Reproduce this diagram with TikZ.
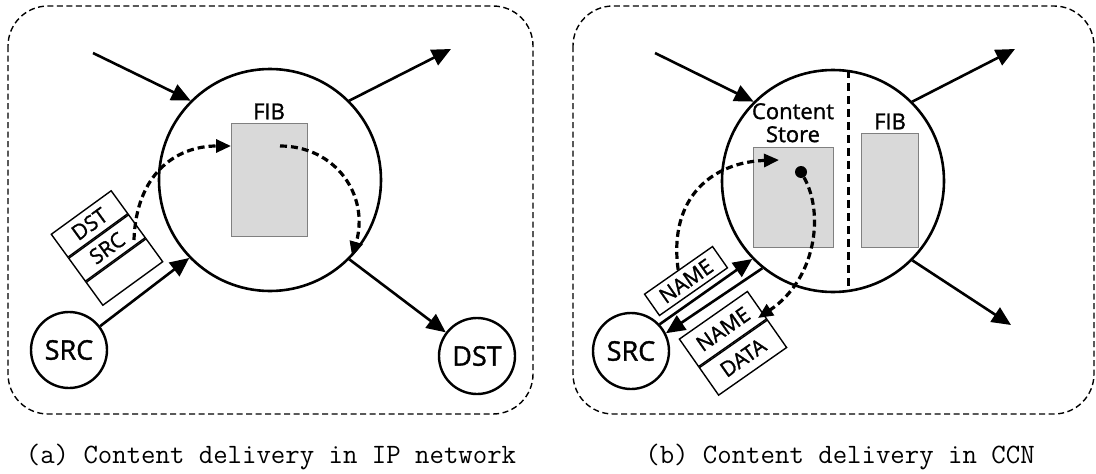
\documentclass[tikz,border=0pt]{standalone}
\usepackage{fontspec}
\newfontfamily\lblfont{Open Sans}[FakeBold=1.3]
\usetikzlibrary{arrows.meta,positioning}
\definecolor{fibgray}{RGB}{217,217,217}
\definecolor{fibedge}{RGB}{128,128,128}

\begin{document}
\begin{tikzpicture}[x=1pt,y=-1pt,
  every node/.style={font=\lblfont},
  box/.style={draw,line width=1.4pt,dash pattern=on 6pt off 3.5pt,rounded corners=40pt},
  router/.style={draw,circle,line width=2.6pt,minimum size=222pt,inner sep=0pt},
  host/.style={draw,circle,line width=2.4pt,minimum size=76pt,inner sep=0pt,font=\lblfont\fontsize{27}{30}\selectfont},
  fibbox/.style={draw=fibedge,fill=fibgray,line width=1pt,inner sep=0pt},
  tlabel/.style={font=\lblfont\fontsize{22}{23}\selectfont,inner sep=0pt,align=center},
  cell/.style={draw,line width=1.4pt,inner sep=0pt,font=\lblfont\fontsize{21}{23}\selectfont},
  link/.style={line width=2.6pt,-{Triangle[length=19pt,width=17pt]}},
  flow/.style={line width=3.2pt,dash pattern=on 7pt off 4pt,-{Triangle[length=15pt,width=13pt]}},
  capt/.style={font=\ttfamily\fontsize{28}{32}\selectfont,inner sep=0pt}]
%\draw[help lines, color=gray!30, dashed] (0,0) grid[step=50pt] (1096,474);
\useasboundingbox (0,0) rectangle (1096,474);
\draw[box] (8,6) rectangle (533,414);
\draw[box] (573,6) rectangle (1094,414);
% (a) IP network
\node[router] (rtA) at (270,180) {};
\node[fibbox,minimum width=76pt,minimum height=113pt] (fibA) at (269,179.5) {};
\node[tlabel,above=3pt of fibA] (fibAl) {FIB};
\node[host] (srcA) at (69,350) {SRC};
\node[host] (dstA) at (477,356) {DST};
\coordinate (inA) at (93,53);
\coordinate (outA) at (451,49);
\draw[link] (inA) -- (rtA.135);
\draw[link] (rtA.45) -- (outA);
\draw[link] (srcA) -- (rtA.224);
\draw[link] (rtA.-45) -- (dstA);
\node[cell,rotate=36,minimum width=74pt,minimum height=28.3pt] (pkA2) at (107,248) {SRC};
\node[cell,rotate=36,minimum width=74pt,minimum height=28.3pt,anchor=south] (pkA1) at (pkA2.north) {DST};
\node[cell,rotate=36,minimum width=74pt,minimum height=28.3pt,anchor=north] (pkA3) at (pkA2.south) {};
\coordinate (fA1) at (134,240);
\coordinate (fA2) at (231,146);
\coordinate (fA3) at (280,146);
\draw[flow] (fA1) .. controls (136,175) and (175,146) .. (fA2);
\draw[flow] (fA3) .. controls (335,146) and (370,195) .. (rtA.-43);
\node[capt] (capA) at (271,457) {(a) Content delivery in IP network};
% (b) CCN
\node[router] (rtB) at (833,181) {};
\node[fibbox,minimum width=80pt,minimum height=100pt] (csB) at (793,197) {};
\node[tlabel,above=4pt of csB] (csBl) {Content\\Store};
\node[fibbox,minimum width=56.5pt,minimum height=114pt] (fibB) at (890,190) {};
\node[tlabel,above=3pt of fibB] (fibBl) {FIB};
\draw[line width=2.4pt,dash pattern=on 8pt off 5pt] (rtB.82) -- (rtB.278);
\node[host] (srcB) at (631,351) {SRC};
\coordinate (inB) at (655,53);
\coordinate (outB) at (1015,49);
\coordinate (downB) at (1011,325);
\draw[link] (inB) -- (rtB.135);
\draw[link] (rtB.45) -- (outB);
\draw[link] (rtB.-45) -- (downB);
\draw[link] (srcB.43) -- (rtB.224);
\draw[link] (rtB.231) -- (srcB.27);
\node[cell,rotate=35,minimum width=83pt,minimum height=26pt] (nmB) at (686,281) {NAME};
\node[cell,rotate=35,minimum width=83pt,minimum height=33.5pt] (ndB1) at (723,329) {NAME};
\node[cell,rotate=35,minimum width=83pt,minimum height=33.5pt,anchor=north] (ndB2) at (ndB1.south) {DATA};
\node[circle,fill,inner sep=0pt,minimum size=12pt] (hitB) at (801,172) {};
\coordinate (fB2) at (779,160);
\coordinate (fB3) at (758,318);
\draw[flow] (nmB.north) .. controls (668,195) and (715,162) .. (fB2);
\draw[flow] (hitB) .. controls (825,215) and (815,280) .. (fB3);
\node[capt] (capB) at (840,457) {(b) Content delivery in CCN};
\end{tikzpicture}
\end{document}
